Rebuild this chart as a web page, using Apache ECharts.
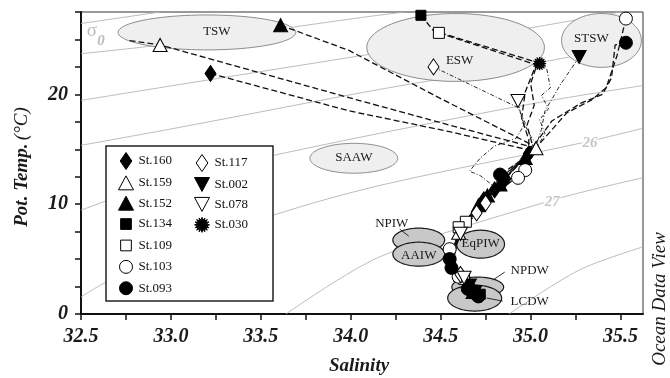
<!DOCTYPE html>
<html>
<head>
<meta charset="utf-8">
<script src="https://cdn.jsdelivr.net/npm/echarts@6/dist/echarts.min.js"></script>
<style>
  html, body { margin: 0; padding: 0; background: #fff; }
  #ts-diagram { width: 670px; height: 378px; }
</style>
</head>
<body>
<div id="ts-diagram"></div>
<script>
// axis ticks
const salinityTicks = [32.5, 32.75, 33.0, 33.25, 33.5, 33.75, 34.0, 34.25, 34.5, 34.75, 35.0, 35.25, 35.5]
const salinityLabels = [32.5, 33.0, 33.5, 34.0, 34.5, 35.0, 35.5]
const tempLabels = [0, 10, 20]

// sigma-0 isopycnals
const sigma21 = [[32.5, 26.45], [32.94, 27.5]]
const sigma22 = [[32.5, 23.7], [33.05, 24.7], [34.06, 27.0], [34.3, 27.5]]
const sigma23 = [[32.5, 19.45], [33.05, 20.9], [34.16, 23.8], [35.05, 26.2], [35.5, 27.5]]
const sigma24 = [[32.5, 15.36], [33.05, 17.0], [34.16, 20.45], [35.05, 22.9], [35.622, 24.7]]
const sigma25 = [[32.5, 9.45], [33.05, 12.6], [33.57, 14.45], [34.16, 16.45], [35.05, 19.27], [35.622, 20.8]]
const sigma26 = [[32.5, 1.55], [32.64, 2.9], [33.05, 5.8], [33.57, 9.0], [34.16, 11.7], [35.29, 15.6], [35.622, 16.9]]
const sigma27 = [[33.64, 0], [34.16, 5.2], [35.12, 10.36], [35.622, 12.4]]
const sigma28 = [[34.88, 0], [35.27, 4.0], [35.622, 6.1]]
const isopycnals = [sigma21, sigma22, sigma23, sigma24, sigma25, sigma26, sigma27, sigma28]
const isoLabelText = ['26', '27']
const isoLabelPos = [[35.33, 15.6], [35.12, 10.2]]

// water masses
const massNames = ['TSW', 'ESW', 'STSW', 'SAAW', 'NPIW', 'AAIW', 'EqPIW', 'NPDW', 'LCDW']
const massSal = [33.2, 34.583, 35.394, 34.017, 34.378, 34.378, 34.722, 34.706, 34.689]
const massTemp = [25.64, 24.27, 24.91, 14.18, 6.73, 5.45, 6.36, 2.45, 1.45]
const massHalfSal = [0.494, 0.494, 0.222, 0.244, 0.144, 0.144, 0.133, 0.144, 0.15]
const massHalfTemp = [1.59, 3.09, 2.45, 1.36, 1.09, 1.09, 1.27, 0.91, 1.18]

// station profiles (dashed) and sampled points (markers)
const stationNames = ['St.160', 'St.159', 'St.152', 'St.134', 'St.109', 'St.103', 'St.093', 'St.117', 'St.002', 'St.078', 'St.030']

const st160Line = [[33.22, 21.9], [33.99, 18.5], [34.55, 16.6], [35.0, 14.9], [34.96, 14.1], [34.87, 12.5], [34.78, 10.9], [34.7, 9.4], [34.64, 8.3], [34.6, 6.8], [34.57, 5.5], [34.57, 4.3], [34.61, 3.1], [34.66, 2.3], [34.69, 1.7]]
const st160Marks = [[33.22, 21.9], [34.99, 14.6], [34.86, 12.3], [34.8, 11.3], [34.74, 10.4], [34.67, 2.4], [34.7, 1.9]]

const st159Line = [[32.77, 24.9], [32.94, 24.5], [33.99, 19.7], [34.55, 17.2], [35.01, 15.2], [34.97, 14.3], [34.88, 12.7], [34.79, 11.1], [34.71, 9.6], [34.65, 8.4], [34.6, 7.1], [34.57, 5.7], [34.56, 4.4], [34.6, 3.2], [34.66, 2.3], [34.69, 1.6]]
const st159Marks = [[32.94, 24.5], [35.03, 15.1], [34.6, 7.4], [34.61, 3.6]]

const st152Line = [[33.61, 26.3], [33.99, 24.0], [34.49, 19.7], [35.02, 15.3], [34.98, 14.5], [34.9, 13.1], [34.81, 11.6], [34.73, 10.1], [34.66, 8.7], [34.61, 7.4], [34.58, 6.0], [34.56, 4.7], [34.59, 3.4], [34.65, 2.4], [34.68, 1.8]]
const st152Marks = [[33.61, 26.3], [34.97, 14.2], [34.83, 11.8], [34.76, 10.8], [34.71, 9.9], [34.68, 2.0]]

const st134Line = [[34.39, 27.2], [34.46, 25.8], [35.04, 22.9], [35.0, 21.0], [35.02, 19.0], [34.98, 17.2], [35.01, 15.4], [34.96, 14.2], [34.87, 12.8], [34.78, 11.2], [34.7, 9.7], [34.64, 8.5], [34.6, 7.1], [34.57, 5.8], [34.57, 4.5], [34.61, 3.3], [34.66, 2.3], [34.7, 1.6]]
const st134Marks = [[34.39, 27.2], [34.72, 1.8]]

const st109Line = [[34.49, 25.6], [35.03, 22.7], [34.97, 20.2], [34.95, 17.8], [34.99, 15.9], [34.99, 14.6], [34.92, 13.4], [34.83, 12.0], [34.75, 10.6], [34.68, 9.2], [34.63, 8.3], [34.6, 7.0], [34.58, 5.6], [34.58, 4.3], [34.62, 3.1], [34.67, 2.1], [34.7, 1.5]]
const st109Marks = [[34.49, 25.6], [34.64, 8.4], [34.6, 7.9], [34.63, 3.2]]

const st103Line = [[35.53, 26.9], [35.48, 23.5], [35.42, 20.6], [35.34, 19.5], [35.2, 18.3], [35.05, 15.5], [34.98, 13.5], [34.93, 12.6], [34.85, 11.5], [34.76, 10.3], [34.69, 9.0], [34.63, 7.9], [34.58, 6.5], [34.55, 5.6], [34.56, 4.4], [34.6, 3.3], [34.65, 2.4], [34.69, 1.7]]
const st103Marks = [[35.53, 26.9], [34.97, 13.1], [34.93, 12.4], [34.55, 5.9], [34.6, 3.4]]

const st093Line = [[35.53, 24.7], [35.47, 24.5], [35.45, 21.5], [35.4, 20.0], [35.28, 19.2], [35.12, 17.6], [35.03, 15.6], [34.94, 13.9], [34.85, 12.9], [34.8, 11.8], [34.73, 10.3], [34.66, 8.9], [34.61, 7.6], [34.57, 6.2], [34.56, 5.0], [34.56, 4.1], [34.61, 3.0], [34.66, 2.1], [34.7, 1.6]]
const st093Marks = [[35.53, 24.7], [34.83, 12.7], [34.55, 5.0], [34.56, 4.2], [34.65, 2.3], [34.69, 1.9], [34.71, 1.6]]

const st117Line = [[34.46, 22.5], [34.93, 18.8], [34.97, 17.4], [34.92, 16.0], [34.8, 15.3], [34.72, 14.2], [34.66, 13.0], [34.72, 12.6], [34.79, 11.7], [34.74, 10.6], [34.7, 9.3], [34.64, 8.2], [34.6, 7.0], [34.58, 5.8], [34.57, 4.5], [34.61, 3.4], [34.66, 2.4], [34.69, 1.7]]
const st117Marks = [[34.46, 22.5], [34.7, 9.2], [34.75, 10.1], [34.61, 3.6]]

const st002Line = [[35.27, 23.4], [35.17, 21.0], [35.08, 18.5], [35.06, 16.8], [35.03, 15.3], [34.96, 14.4], [34.89, 13.2], [34.81, 11.8], [34.73, 10.2], [34.66, 8.8], [34.61, 7.5], [34.58, 6.1], [34.57, 4.7], [34.6, 3.4], [34.65, 2.5], [34.68, 1.8]]
const st002Marks = [[35.27, 23.4], [34.66, 2.6], [34.69, 2.0]]

const st078Line = [[34.93, 19.4], [34.95, 17.8], [35.0, 16.2], [35.05, 15.1], [34.98, 14.3], [34.93, 13.7], [34.86, 12.8], [34.8, 11.7], [34.74, 10.5], [34.68, 9.3], [34.63, 8.1], [34.6, 7.1], [34.58, 5.9], [34.58, 4.6], [34.62, 3.5], [34.66, 2.5], [34.69, 1.8]]
const st078Marks = [[34.93, 19.4], [34.61, 7.3], [34.63, 3.3]]

const st030Line = [[35.05, 22.8], [35.09, 22.3], [35.11, 20.6], [35.06, 19.9], [35.1, 18.7], [35.05, 17.7], [35.08, 16.4], [35.03, 15.1], [34.95, 14.0], [34.88, 13.0], [34.8, 11.7], [34.72, 10.0], [34.65, 8.6], [34.6, 7.2], [34.57, 5.9], [34.57, 4.6], [34.6, 3.3], [34.65, 2.4], [34.68, 1.7]]
const st030Marks = [[35.05, 22.8], [34.67, 2.1], [34.7, 1.7]]

const stationLines = [st160Line, st159Line, st152Line, st134Line, st109Line, st103Line, st093Line, st117Line, st002Line, st078Line, st030Line]
const stationMarks = [st160Marks, st159Marks, st152Marks, st134Marks, st109Marks, st103Marks, st093Marks, st117Marks, st002Marks, st078Marks, st030Marks]

// ---- look ----
const SERIF = '"Liberation Serif", "DejaVu Serif", serif'

function starburst(n, r1, r2) {
  let d = ''
  for (let i = 0; i < n * 2; i++) {
    const r = i % 2 === 0 ? r1 : r2
    const a = i / (n * 2) * Math.PI * 2
    d += (i === 0 ? 'M' : 'L') + (r1 + r * Math.cos(a)).toFixed(2) + ',' + (r1 + r * Math.sin(a)).toFixed(2)
  }
  return 'path://' + d + 'Z'
}

const DIAMOND = 'path://M5.5,0L11,8L5.5,16L0,8Z'
const TRI_UP = 'path://M7,0L14,13L0,13Z'
const TRI_DOWN = 'path://M0,0L14,0L7,13Z'
const STAR = starburst(16, 10, 6)
// legend icons padded with bare move-tos so they do not fill the whole box
const SQUARE_ICON = 'path://M-2,-2M12,12M0,0L10,0L10,10L0,10Z'
const CIRCLE_ICON = 'path://M-1,-1M14,14M0,6.5A6.5,6.5,0,1,1,13,6.5A6.5,6.5,0,1,1,0,6.5Z'

const stationStyle = {
  'St.160': { symbol: DIAMOND, size: [11, 16], fill: '#000', icon: DIAMOND },
  'St.159': { symbol: TRI_UP, size: [14, 13], fill: '#fff', icon: TRI_UP },
  'St.152': { symbol: TRI_UP, size: [14, 13], fill: '#000', icon: TRI_UP },
  'St.134': { symbol: 'rect', size: [10, 10], fill: '#000', icon: SQUARE_ICON },
  'St.109': { symbol: 'rect', size: [11, 11], fill: '#fff', icon: SQUARE_ICON },
  'St.103': { symbol: 'circle', size: 13, fill: '#fff', icon: CIRCLE_ICON },
  'St.093': { symbol: 'circle', size: 13, fill: '#000', icon: CIRCLE_ICON },
  'St.117': { symbol: DIAMOND, size: [11, 16], fill: '#fff', icon: DIAMOND },
  'St.002': { symbol: TRI_DOWN, size: [14, 13], fill: '#000', icon: TRI_DOWN },
  'St.078': { symbol: TRI_DOWN, size: [14, 13], fill: '#fff', icon: TRI_DOWN },
  'St.030': { symbol: STAR, size: 13, fill: '#000', icon: STAR }
}
const thinStations = ['St.117', 'St.002', 'St.078', 'St.030']

const massLayout = {
  TSW: { dark: false, label: [10, -1] },
  ESW: { dark: false, label: [4, 13] },
  STSW: { dark: false, label: [-10, -2] },
  SAAW: { dark: false, label: [0, -1] },
  NPIW: { dark: true, label: [-27, -17], leader: [-19, -11, -10, -4] },
  AAIW: { dark: true, label: [0, 1] },
  EqPIW: { dark: true, label: [0, -1] },
  NPDW: { dark: true, label: [52, -17], leader: [27, -15, 15, -7] },
  LCDW: { dark: true, label: [55, 4], leader: [28, 3, 12, 0] }
}

const chartObj = echarts.init(document.getElementById('ts-diagram'))

const series = []

// isopycnals
isopycnals.forEach((pts, i) => {
  series.push({
    name: 'sigma' + (21 + i),
    type: 'line',
    data: pts,
    smooth: 0.3,
    symbol: 'none',
    silent: true,
    z: 1,
    lineStyle: { color: '#b4b4b4', width: 0.9 }
  })
})
series.push({
  name: 'isoLabels',
  type: 'scatter',
  silent: true,
  z: 1,
  symbolSize: 1,
  itemStyle: { color: 'transparent' },
  data: isoLabelPos.map((p, i) => ({
    value: p,
    label: {
      show: true,
      position: 'inside',
      formatter: isoLabelText[i],
      color: '#b8b8b8',
      fontFamily: SERIF,
      fontSize: 15,
      fontWeight: 'bold',
      fontStyle: 'italic',
      backgroundColor: '#fff',
      padding: [0, 1]
    }
  })).concat([
    {
      value: [32.561, 25.73],
      label: { show: true, position: 'inside', formatter: 'σ', color: '#aaa', fontFamily: SERIF, fontSize: 19 }
    },
    {
      value: [32.611, 24.82],
      label: { show: true, position: 'inside', formatter: '0', color: '#aaa', fontFamily: SERIF, fontSize: 15, fontStyle: 'italic', fontWeight: 'bold' }
    }
  ])
})

// water mass ellipses
series.push({
  name: 'waterMasses',
  type: 'custom',
  silent: true,
  z: 2,
  data: massNames.map((n, i) => [massSal[i], massTemp[i], massHalfSal[i], massHalfTemp[i]]),
  renderItem(params, api) {
    const name = massNames[params.dataIndex]
    const lay = massLayout[name]
    const c = api.coord([api.value(0), api.value(1)])
    const rx = api.size([api.value(2), 0])[0]
    const ry = api.size([0, api.value(3)])[1]
    const pts = []
    for (let k = 0; k < 90; k++) {
      const a = k / 90 * Math.PI * 2
      pts.push([c[0] + rx * Math.cos(a), c[1] + ry * Math.sin(a)])
    }
    const children = [{
      type: 'polygon',
      shape: { points: pts },
      style: lay.dark
        ? { fill: '#c8c8c8', stroke: '#1a1a1a', lineWidth: 1.2 }
        : { fill: '#efefef', stroke: '#8c8c8c', lineWidth: 1 }
    }, {
      type: 'text',
      x: c[0] + lay.label[0],
      y: c[1] + lay.label[1],
      style: {
        text: name,
        fill: '#1a1a1a',
        font: '13px ' + SERIF,
        align: 'center',
        verticalAlign: 'middle',
        textAlign: 'center',
        textVerticalAlign: 'middle'
      }
    }]
    if (lay.leader) {
      children.push({
        type: 'line',
        shape: {
          x1: c[0] + lay.leader[0], y1: c[1] + lay.leader[1],
          x2: c[0] + lay.leader[2], y2: c[1] + lay.leader[3]
        },
        style: { stroke: '#1a1a1a', lineWidth: 0.9 }
      })
    }
    return { type: 'group', children }
  }
})

// station profiles
stationNames.forEach((name, i) => {
  const thin = thinStations.indexOf(name) >= 0
  series.push({
    name: name + ' profile',
    type: 'line',
    data: stationLines[i],
    symbol: 'none',
    silent: true,
    z: 3,
    lineStyle: {
      color: '#111',
      width: thin ? 0.9 : 1.3,
      type: thin ? [4, 2, 1, 2] : [6, 3]
    }
  })
})
stationNames.forEach((name, i) => {
  const st = stationStyle[name]
  series.push({
    name,
    type: 'scatter',
    data: stationMarks[i],
    symbol: st.symbol,
    symbolSize: st.size,
    z: 4,
    itemStyle: { color: st.fill, borderColor: '#000', borderWidth: 1, opacity: 1 }
  })
})

function legendItems(names) {
  return names.map(n => ({
    name: n,
    icon: stationStyle[n].icon,
    itemStyle: { color: stationStyle[n].fill, borderColor: '#000', borderWidth: 1 }
  }))
}
const legendText = { fontFamily: SERIF, fontSize: 13, color: '#111' }

const chartOption = {
  animation: false,
  backgroundColor: '#fff',
  grid: {
    left: 81,
    right: 27,
    top: 12,
    bottom: 64,
    show: true,
    borderColor: '#333',
    borderWidth: 1,
    backgroundColor: 'transparent'
  },
  legend: [
    {
      data: legendItems(stationNames.slice(0, 7)),
      orient: 'vertical',
      left: 118,
      top: 152,
      padding: 0,
      itemWidth: 15,
      itemHeight: 17,
      itemGap: 5.4,
      symbolKeepAspect: true,
      selectedMode: false,
      textStyle: legendText,
      z: 11
    },
    {
      data: legendItems(stationNames.slice(7)),
      orient: 'vertical',
      left: 194,
      top: 154,
      padding: 0,
      itemWidth: 15,
      itemHeight: 17,
      itemGap: 5,
      symbolKeepAspect: true,
      selectedMode: false,
      textStyle: legendText,
      z: 11
    }
  ],
  xAxis: {
    type: 'value',
    min: 32.5,
    max: 35.625,
    interval: 0.25,
    axisLine: { onZero: false, lineStyle: { color: '#111', width: 2 } },
    axisTick: { show: true, length: 6, inside: false, customValues: salinityTicks, lineStyle: { color: '#111', width: 1.5 } },
    axisLabel: {
      customValues: salinityLabels,
      margin: 13,
      formatter: v => salinityLabels.some(t => Math.abs(t - v) < 1e-6) ? v.toFixed(1) : '',
      fontFamily: SERIF,
      fontSize: 20,
      fontWeight: 'bold',
      fontStyle: 'italic',
      color: '#1a1a1a'
    },
    splitLine: { show: false }
  },
  yAxis: {
    type: 'value',
    min: 0,
    max: 27.5,
    interval: 2.5,
    axisLine: { onZero: false, lineStyle: { color: '#111', width: 2 } },
    axisTick: { show: true, length: 6, inside: false, lineStyle: { color: '#111', width: 1.5 } },
    axisLabel: {
      margin: 13,
      formatter: v => tempLabels.indexOf(v) >= 0 ? String(v) : '',
      fontFamily: SERIF,
      fontSize: 20,
      fontWeight: 'bold',
      fontStyle: 'italic',
      color: '#1a1a1a'
    },
    splitLine: { show: false }
  },
  graphic: [
    {
      type: 'rect',
      z: 10,
      shape: { x: 106, y: 146, width: 167, height: 155 },
      style: { fill: '#fff', stroke: '#222', lineWidth: 1.5 }
    },
    {
      type: 'text',
      z: 10,
      x: 359,
      y: 366,
      style: {
        text: 'Salinity',
        font: 'italic bold 19px ' + SERIF,
        fill: '#1a1a1a',
        align: 'center',
        verticalAlign: 'middle',
        textAlign: 'center',
        textVerticalAlign: 'middle'
      }
    },
    {
      type: 'text',
      z: 10,
      x: 22,
      y: 167,
      rotation: Math.PI / 2,
      style: {
        text: '{b|Pot. Temp.} {n|(°C)}',
        rich: {
          b: { fontFamily: SERIF, fontSize: 19, fontWeight: 'bold', fontStyle: 'italic', fill: '#1a1a1a' },
          n: { fontFamily: SERIF, fontSize: 19, fontStyle: 'italic', fill: '#1a1a1a' }
        },
        align: 'center',
        verticalAlign: 'middle',
        textAlign: 'center',
        textVerticalAlign: 'middle'
      }
    },
    {
      type: 'text',
      z: 10,
      x: 660,
      y: 299,
      rotation: Math.PI / 2,
      style: {
        text: 'Ocean Data View',
        font: 'italic 19px ' + SERIF,
        fill: '#1a1a1a',
        align: 'center',
        verticalAlign: 'middle',
        textAlign: 'center',
        textVerticalAlign: 'middle'
      }
    }
  ],
  series
}

chartObj.setOption(chartOption, true)
</script>
</body>
</html>
